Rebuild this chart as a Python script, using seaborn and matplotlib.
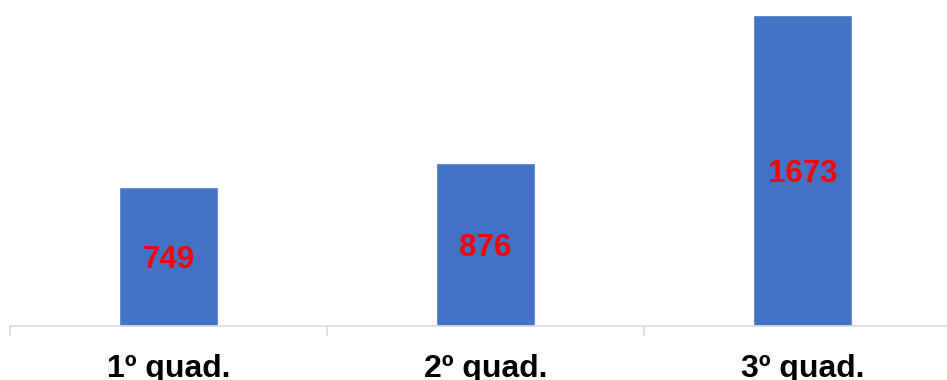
import matplotlib
matplotlib.use("Agg")
import matplotlib.pyplot as plt
import seaborn as sns
import pandas as pd

categories = ["1º quad.", "2º quad.", "3º quad."]
values = [749, 876, 1673]

sns.set_theme(style="white")
plt.rcParams["font.family"] = ["Liberation Sans", "DejaVu Sans"]

df = pd.DataFrame({"quad": categories, "total": values})

fig = plt.figure(figsize=(9.47, 3.8), dpi=100)
ax = fig.add_axes([10 / 947, 54 / 380, 951 / 947, 326 / 380])

sns.barplot(data=df, x="quad", y="total", color="#4472C4", width=0.315,
            saturation=1, ax=ax)

ax.set_ylim(0, 1754)
ax.set_xlim(-0.5, 2.5)
ax.set_xlabel("")
ax.set_ylabel("")
ax.set_yticks([])

for sp in ["top", "right", "left"]:
    ax.spines[sp].set_visible(False)
ax.spines["bottom"].set_color("#d9d9d9")
ax.spines["bottom"].set_linewidth(1.2)

# category boundary ticks
ax.set_xticks([-0.5, 0.5, 1.5, 2.5], minor=True)
ax.tick_params(axis="x", which="both", bottom=True)
ax.tick_params(axis="x", which="minor", length=7.5, width=1.2, color="#d9d9d9",
               direction="out")
ax.tick_params(axis="x", which="major", length=0, pad=20)
for lbl in ax.get_xticklabels():
    lbl.set_fontsize(23)
    lbl.set_fontweight("bold")
    lbl.set_color("black")

fs = 22.5
for i, v in enumerate(values):
    ax.annotate(str(v), xy=(i, v / 2), xytext=(0, -0.36 * fs),
                textcoords="offset points", ha="center", va="baseline",
                color="#FF0000", fontsize=fs, fontweight="bold")

fig.savefig("out.png", dpi=100)
